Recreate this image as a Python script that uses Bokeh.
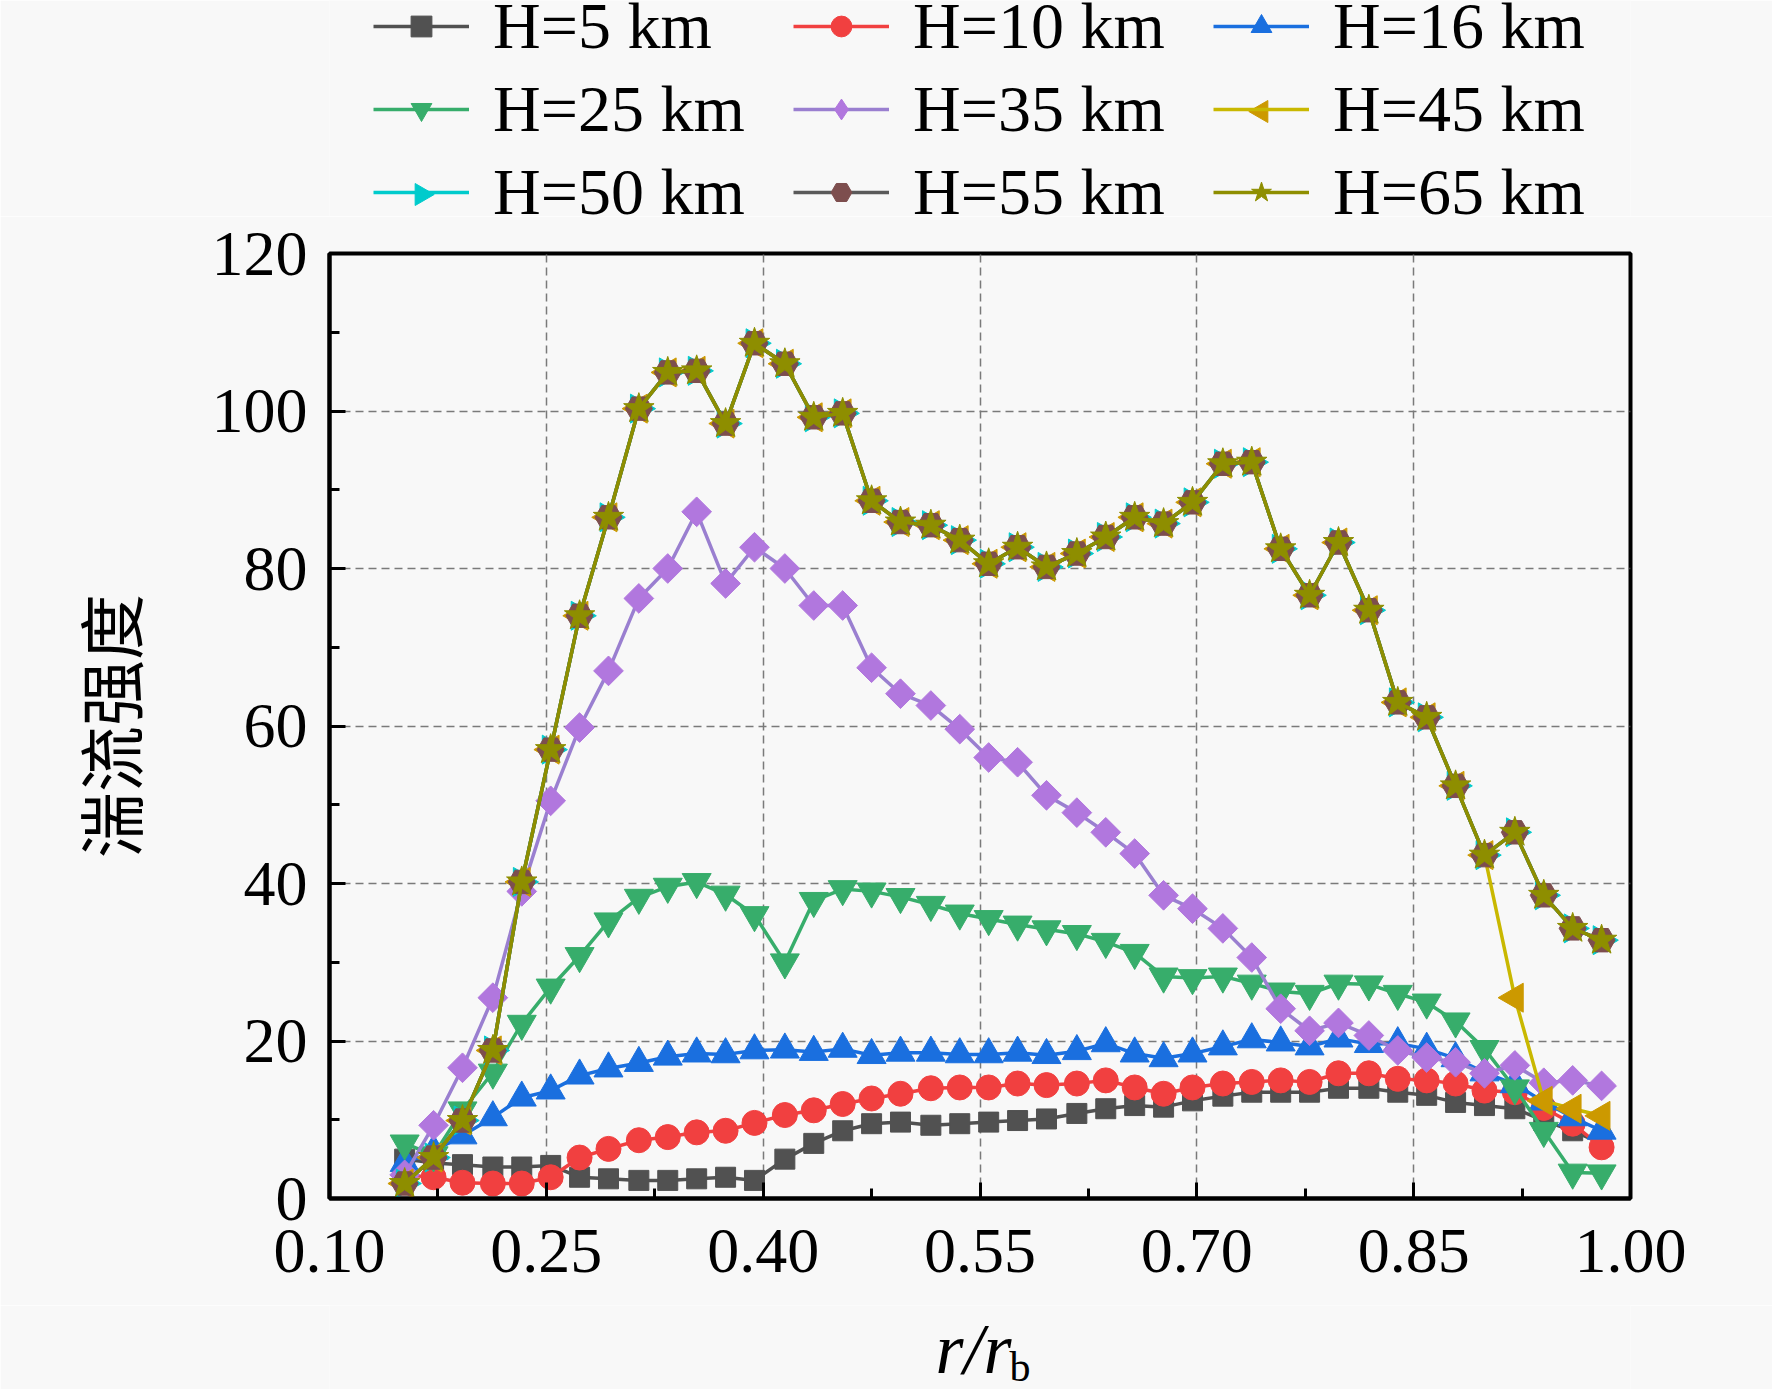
import math
from bokeh.plotting import figure
from bokeh.layouts import column
from bokeh.models import (FixedTicker, PrintfTickFormatter, Legend, LegendItem,
                          Range1d)
from bokeh.core.properties import value
from bokeh.embed import file_html
from bokeh.resources import INLINE

# ---------------- data ----------------
r_rb = [0.152, 0.172, 0.192, 0.213, 0.233, 0.253, 0.273, 0.293, 0.314, 0.334,
        0.354, 0.374, 0.394, 0.415, 0.435, 0.455, 0.475, 0.495, 0.516, 0.536,
        0.556, 0.576, 0.596, 0.617, 0.637, 0.657, 0.677, 0.697, 0.718, 0.738,
        0.758, 0.778, 0.798, 0.819, 0.839, 0.859, 0.879, 0.899, 0.920, 0.940,
        0.960, 0.980]

h5 = [5.0, 4.5, 4.3, 4.0, 4.0, 4.2, 2.7, 2.5, 2.3, 2.3,
      2.5, 2.7, 2.3, 5.0, 7.0, 8.6, 9.5, 9.7, 9.3, 9.5,
      9.7, 9.9, 10.1, 10.8, 11.4, 11.8, 11.6, 12.4, 13.0, 13.5,
      13.5, 13.5, 14.0, 14.0, 13.5, 13.1, 12.2, 11.8, 11.4, 9.9,
      8.6, 7.0]
h10 = [3.0, 2.7, 2.0, 1.9, 1.9, 2.7, 5.2, 6.3, 7.4, 7.8,
       8.4, 8.6, 9.6, 10.6, 11.2, 12.0, 12.7, 13.3, 14.0, 14.1,
       14.1, 14.6, 14.4, 14.6, 15.0, 14.1, 13.3, 14.1, 14.6, 14.8,
       15.0, 14.8, 15.9, 15.9, 15.2, 15.0, 14.6, 13.7, 13.5, 11.5,
       9.5, 6.5]
h16 = [4.5, 6.0, 8.0, 10.3, 12.8, 13.7, 15.6, 16.5, 17.2, 18.0,
       18.4, 18.3, 18.8, 18.9, 18.6, 19.0, 18.2, 18.5, 18.5, 18.3,
       18.3, 18.5, 18.2, 18.7, 19.7, 18.4, 17.8, 18.4, 19.3, 20.2,
       19.8, 19.3, 20.3, 19.6, 19.7, 19.0, 17.8, 16.0, 14.5, 12.3,
       10.3, 8.6]
h25 = [7.0, 5.5, 11.2, 16.0, 22.2, 26.8, 30.8, 35.2, 38.2, 39.6,
       40.2, 38.6, 36.0, 30.0, 37.8, 39.3, 39.0, 38.3, 37.3, 36.2,
       35.5, 34.8, 34.2, 33.6, 32.6, 31.2, 28.2, 28.0, 28.2, 27.3,
       26.3, 26.0, 27.3, 27.2, 26.0, 24.9, 22.5, 19.0, 14.0, 8.6,
       3.3, 3.2]
h35 = [3.0, 9.3, 16.6, 25.5, 39.0, 50.5, 59.8, 67.0, 76.2, 80.0,
       87.2, 78.1, 82.7, 80.0, 75.3, 75.3, 67.4, 64.1, 62.6, 59.6,
       56.0, 55.4, 51.2, 49.0, 46.5, 43.8, 38.5, 36.8, 34.3, 30.6,
       24.1, 21.3, 22.3, 20.7, 18.8, 17.9, 17.3, 15.9, 16.9, 14.7,
       15.0, 14.3]
h45 = [1.9, 5.2, 9.9, 18.8, 40.2, 57.0, 74.0, 86.5, 100.3, 104.9,
       105.1, 98.4, 108.6, 106.0, 99.2, 99.7, 88.6, 85.9, 85.5, 83.6,
       80.6, 82.7, 80.2, 81.9, 84.0, 86.5, 85.7, 88.4, 93.3, 93.5,
       82.5, 76.6, 83.3, 74.7, 63.0, 61.1, 52.4, 43.6, 25.5, 12.4,
       11.4, 10.5]
h50 = [1.9, 5.2, 9.9, 18.8, 40.2, 57.0, 74.0, 86.5, 100.3, 104.9,
       105.1, 98.4, 108.6, 106.0, 99.2, 99.7, 88.6, 85.9, 85.5, 83.6,
       80.6, 82.7, 80.2, 81.9, 84.0, 86.5, 85.7, 88.4, 93.3, 93.5,
       82.5, 76.6, 83.3, 74.7, 63.0, 61.1, 52.4, 43.6, 46.5, 38.5,
       34.3, 32.8]
h55 = [1.9, 5.2, 9.9, 18.8, 40.2, 57.0, 74.0, 86.5, 100.3, 104.9,
       105.1, 98.4, 108.6, 106.0, 99.2, 99.7, 88.6, 85.9, 85.5, 83.6,
       80.6, 82.7, 80.2, 81.9, 84.0, 86.5, 85.7, 88.4, 93.3, 93.5,
       82.5, 76.6, 83.3, 74.7, 63.0, 61.1, 52.4, 43.6, 46.5, 38.5,
       34.3, 32.8]
h65 = [1.9, 5.2, 9.9, 18.8, 40.2, 57.0, 74.0, 86.5, 100.3, 104.9,
       105.1, 98.4, 108.6, 106.0, 99.2, 99.7, 88.6, 85.9, 85.5, 83.6,
       80.6, 82.7, 80.2, 81.9, 84.0, 86.5, 85.7, 88.4, 93.3, 93.5,
       82.5, 76.6, 83.3, 74.7, 63.0, 61.1, 52.4, 43.6, 46.5, 38.5,
       34.3, 32.8]

series_names = ["H=5 km", "H=10 km", "H=16 km", "H=25 km", "H=35 km",
                "H=45 km", "H=50 km", "H=55 km", "H=65 km"]

x_ticks = [0.10, 0.25, 0.40, 0.55, 0.70, 0.85, 1.00]
x_minor = [0.175, 0.325, 0.475, 0.625, 0.775, 0.925]
y_ticks = [0, 20, 40, 60, 80, 100, 120]
y_minor = [10, 30, 50, 70, 90, 110]

y_title = "湍流强度"
x_title_main = "r/r"
x_title_sub = "b"

# ---------------- styles / layout ----------------
BG = "#f8f8f8"
SERIF = "Liberation Serif"
W = 1772
H_TOP, H_MAIN, H_BOT = 216, 1089, 84
FL, FR = 329, 1630            # frame left / right (px)
styles = [
    # (values, marker, legend marker, fill, line, size, angle)
    (h5,  "square",            "square",            "#515151", "#515151", 20, 0.0),
    (h10, "circle",            "circle",            "#F14040", "#F14040", 25, 0.0),
    (h16, "triangle",          "triangle",          "#1A6FDF", "#1A6FDF", 29, 0.0),
    (h25, "inverted_triangle", "inverted_triangle", "#37AD6B", "#37AD6B", 29, 0.0),
    (h35, "square",            "diamond",           "#B177DE", "#9A7FD0", 21, math.pi / 4),
    (h45, "triangle",          None,                "#CC9900", "#C9B800", 29, math.pi / 2),
    (h50, "triangle",          None,                "#00CBCC", "#00CBCC", 29, -math.pi / 2),
    (h55, "hex",               "hex",               "#7D4E4E", "#5a5a5a", 27, 0.0),
    (h65, "star",              "star",              "#8E8E00", "#8E8E00", 32, 0.0),
]


def add_series(fig, for_legend=False):
    out = {}
    for (vals, marker, lmarker, fill, line, size, ang), name in zip(styles, series_names):
        ln = fig.line(r_rb, vals, line_color=line, line_width=3.5)
        rs = [ln]
        if not for_legend:
            rs.append(fig.scatter(r_rb, vals, marker=marker, size=size, angle=ang,
                                  fill_color=fill, line_color=fill, line_width=1))
        elif lmarker is not None:
            rs.append(fig.scatter(r_rb, vals, marker=lmarker, size=size,
                                  fill_color=fill, line_color=fill, line_width=1))
        out[name] = rs
    return out


# ---- main plot ----
p = figure(width=W, height=H_MAIN,
           x_range=Range1d(0.10, 1.00), y_range=Range1d(0, 120),
           output_backend="svg", toolbar_location=None, tools="",
           min_border_left=FL, min_border_right=W - FR,
           min_border_top=253 - H_TOP, min_border_bottom=H_TOP + H_MAIN - 1198,
           background_fill_color=BG, border_fill_color=BG,
           outline_line_color="black", outline_line_width=4)
add_series(p)

for ax in (p.xaxis[0], p.yaxis[0]):
    ax.axis_line_width = 4
    ax.axis_line_color = "black"
    ax.major_tick_in = 16
    ax.major_tick_out = 0
    ax.minor_tick_in = 10
    ax.minor_tick_out = 0
    ax.major_tick_line_width = 3
    ax.minor_tick_line_width = 3
    ax.major_tick_line_color = "black"
    ax.minor_tick_line_color = "black"
    ax.major_label_text_font = SERIF
    ax.major_label_text_font_size = "64px"
    ax.major_label_text_color = "black"

p.xaxis.ticker = FixedTicker(ticks=x_ticks, minor_ticks=x_minor)
p.xaxis.formatter = PrintfTickFormatter(format="%.2f")
p.xaxis.major_label_standoff = 31
p.yaxis.ticker = FixedTicker(ticks=y_ticks, minor_ticks=y_minor)
p.yaxis.major_label_standoff = 22

p.yaxis.axis_label = y_title
p.yaxis.axis_label_text_font = "Noto Sans CJK SC"
p.yaxis.axis_label_text_font_size = "66px"
p.yaxis.axis_label_text_font_style = "normal"
p.yaxis.axis_label_text_color = "black"
p.yaxis.axis_label_standoff = 53

for g in (p.xgrid[0], p.ygrid[0]):
    g.grid_line_color = "#7a7a7a"
    g.grid_line_width = 1.5
    g.grid_line_dash = "8 5"

# ---- top strip: legend (proxy renderers use the same series, out of view) ----
top = figure(width=W, height=H_TOP, x_range=Range1d(FL, FR),
             y_range=Range1d(0, H_TOP), output_backend="svg",
             toolbar_location=None, tools="", x_axis_type=None,
             y_axis_type=None, min_border_left=FL, min_border_right=W - FR,
             min_border_top=0, min_border_bottom=0, outline_line_color=None,
             background_fill_color=BG, border_fill_color=BG)
proxies = add_series(top, for_legend=True)
order = ["H=5 km", "H=25 km", "H=50 km",
         "H=10 km", "H=35 km", "H=55 km",
         "H=16 km", "H=45 km", "H=65 km"]
items = [LegendItem(label=n, renderers=proxies[n]) for n in order]
legend = Legend(items=items, location=(44, -14), orientation="vertical",
                nrows=3, label_text_font=SERIF, label_text_font_size="66px",
                label_text_color="black", glyph_width=96, glyph_height=52,
                label_standoff=24, label_width=293, label_height=76,
                spacing=7, padding=0, margin=0, border_line_alpha=0,
                background_fill_alpha=0)
top.add_layout(legend)

# sideways triangles for the 45 km / 50 km legend symbols (legend slots, px)
top.scatter(x=[1261], y=[H_TOP - 111], marker="triangle", size=22,
            angle=math.pi / 2, fill_color="#CC9900", line_color="#CC9900",
            level="overlay")
top.scatter(x=[421], y=[H_TOP - 194], marker="triangle", size=22,
            angle=-math.pi / 2, fill_color="#00CBCC", line_color="#00CBCC",
            level="overlay")

# ---- bottom strip: x-axis title r/r_b (pixel coordinates) ----
bot = figure(width=W, height=H_BOT, x_range=Range1d(FL, FR),
             y_range=Range1d(0, H_BOT), output_backend="svg",
             toolbar_location=None, tools="", x_axis_type=None,
             y_axis_type=None, min_border_left=FL, min_border_right=W - FR,
             min_border_top=0, min_border_bottom=0, outline_line_color=None,
             background_fill_color=BG, border_fill_color=BG)
bot.text(x=[935], y=[41], text=[x_title_main], text_font=value(SERIF),
         text_font_style=value("italic"), text_font_size=value("72px"),
         text_baseline=value("middle"), text_align=value("left"),
         text_color="black")
bot.text(x=[1009], y=[23], text=[x_title_sub], text_font=value(SERIF),
         text_font_style=value("normal"), text_font_size=value("42px"),
         text_baseline=value("middle"), text_align=value("left"),
         text_color="black")

layout = column(top, p, bot, spacing=0)
html = file_html(layout, INLINE)
html = html.replace("<body>", '<body style="background:%s">' % BG, 1)
open("out.html", "w").write(html)
